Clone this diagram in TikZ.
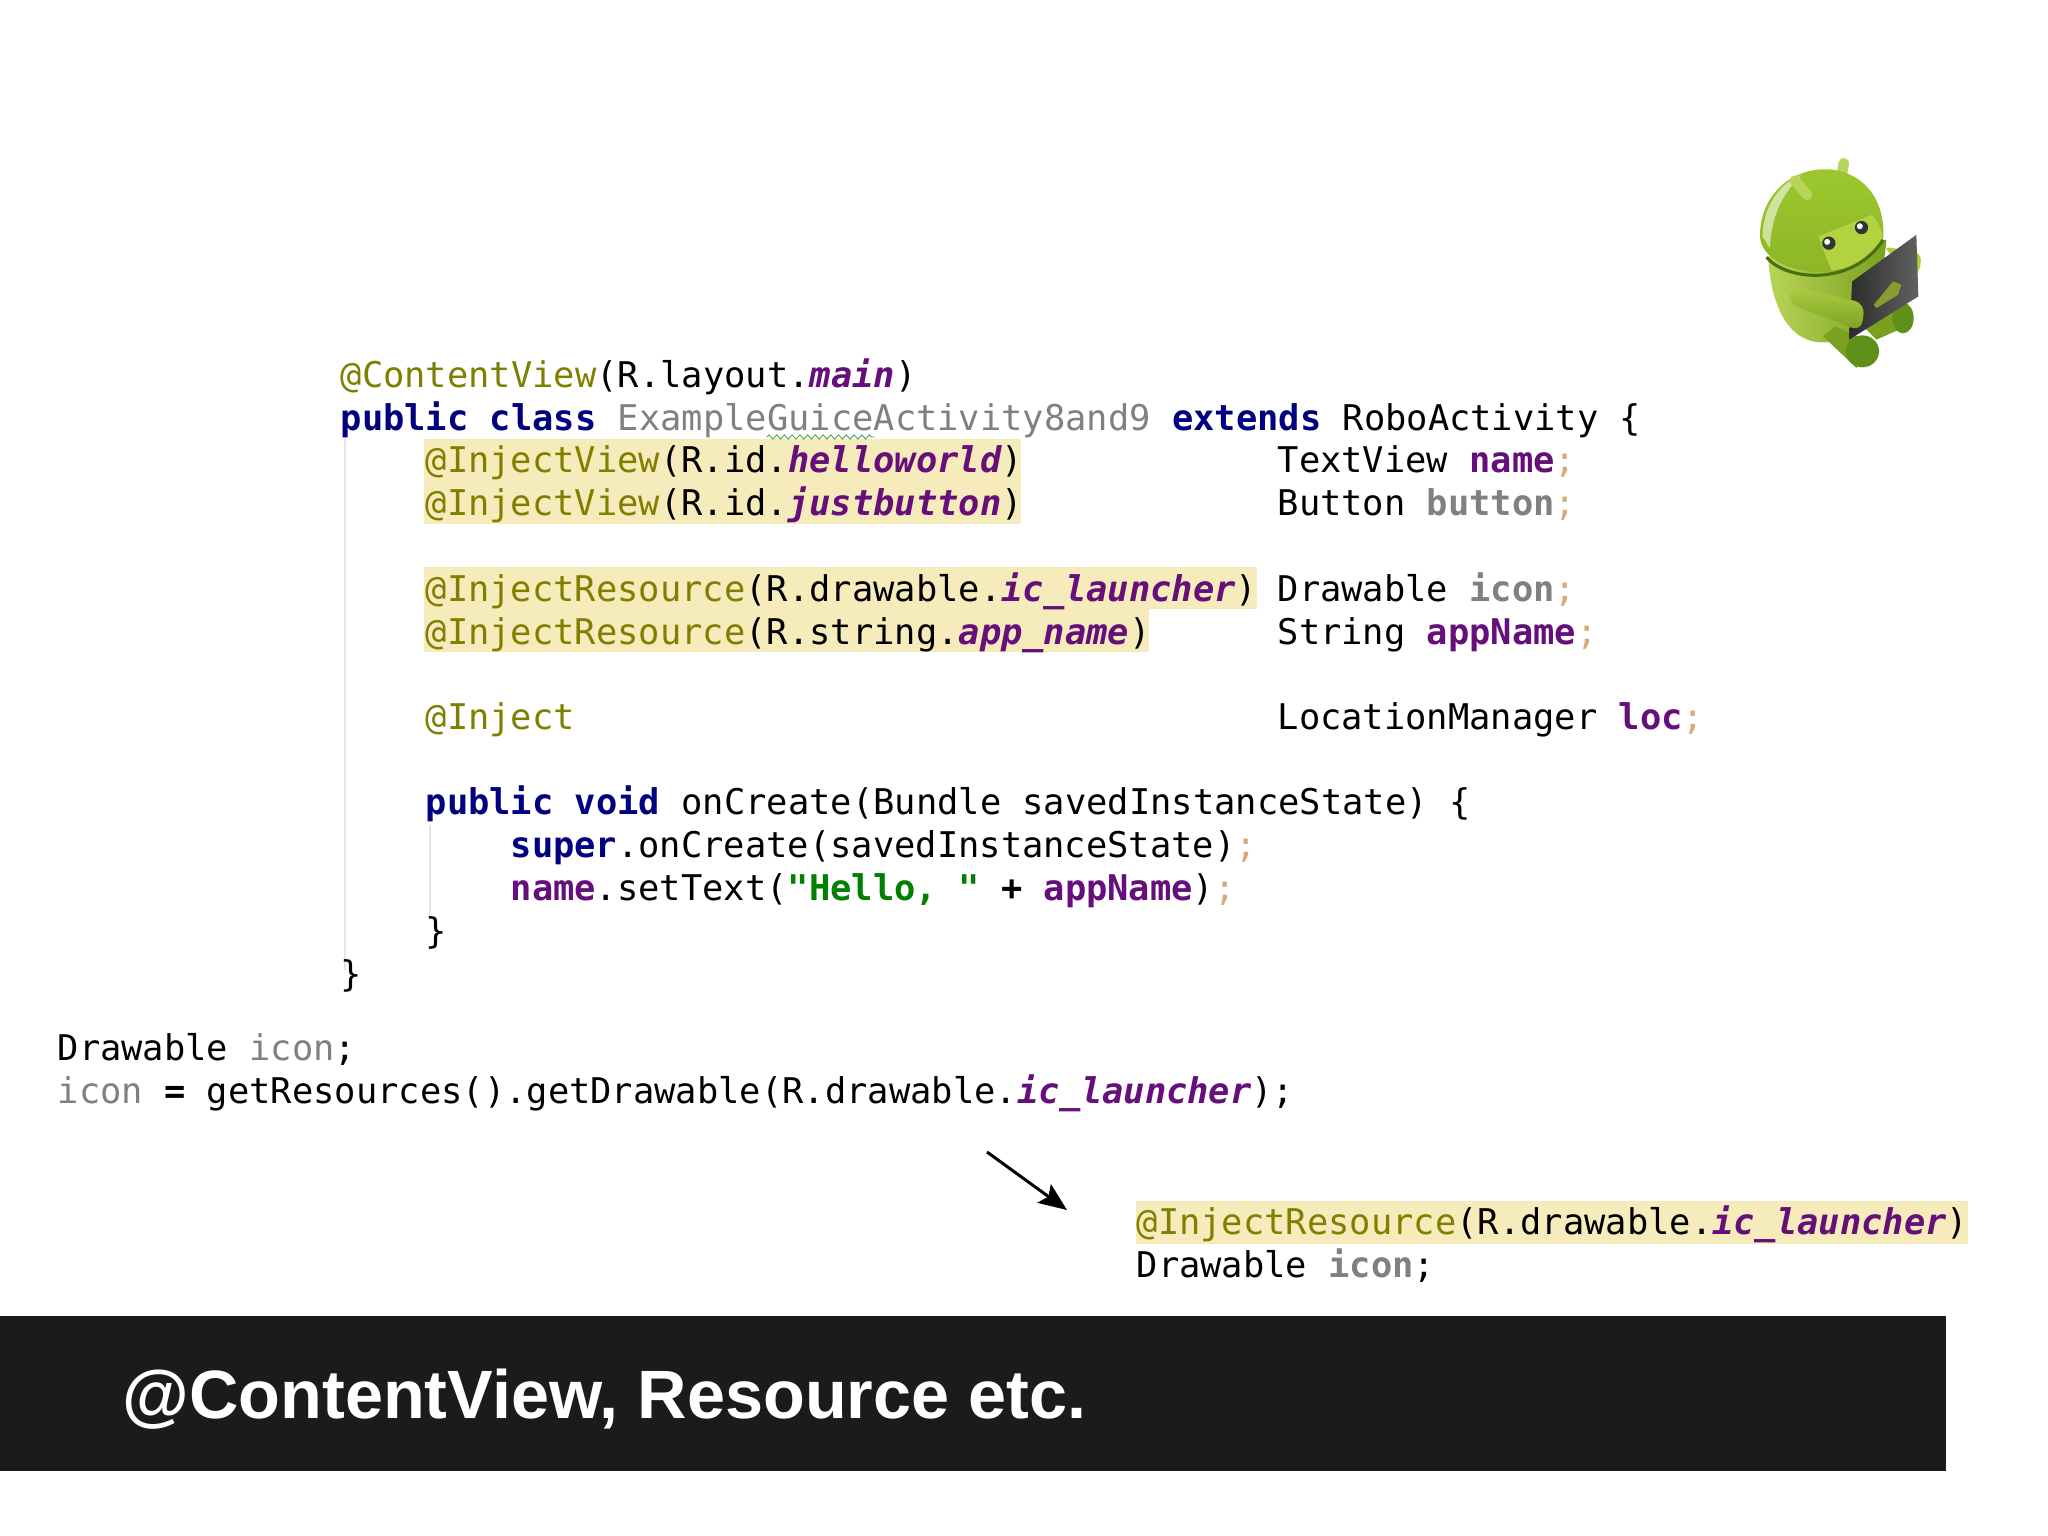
\documentclass[tikz,border=0pt]{standalone}
\usepackage{fontspec}
\setmainfont{Liberation Sans}
\setmonofont{DejaVu Sans Mono}
\usetikzlibrary{arrows.meta}
\usetikzlibrary{decorations.pathmorphing}
\definecolor{annot}{RGB}{128,128,0}
\definecolor{keyw}{RGB}{0,0,128}
\definecolor{field}{RGB}{102,14,122}
\definecolor{strg}{RGB}{0,128,0}
\definecolor{unused}{RGB}{128,128,128}
\definecolor{semi}{RGB}{214,170,120}
\definecolor{hilite}{RGB}{245,235,187}
\definecolor{barblack}{RGB}{27,26,29}
\definecolor{headtop}{RGB}{156,200,46}
\definecolor{headlow}{RGB}{140,182,38}
\definecolor{facelite}{RGB}{178,211,63}
\definecolor{bodylite}{RGB}{184,212,88}
\definecolor{bodydark}{RGB}{122,160,32}
\definecolor{footgreen}{RGB}{95,145,25}
\definecolor{collar}{RGB}{72,112,16}
\definecolor{armlite}{RGB}{172,206,66}
\definecolor{tabdark}{RGB}{42,45,44}
\definecolor{tabgrey}{RGB}{96,98,96}
\definecolor{tablogo}{RGB}{143,154,46}
\newcommand{\ann}[1]{\textcolor{annot}{#1}}
\newcommand{\kw}[1]{\textcolor{keyw}{\bfseries #1}}
\newcommand{\fld}[1]{\textcolor{field}{\bfseries #1}}
\newcommand{\res}[1]{\textcolor{field}{\bfseries\itshape #1}}
\newcommand{\grey}[1]{\textcolor{unused}{#1}}
\newcommand{\greyb}[1]{\textcolor{unused}{\bfseries #1}}
\newcommand{\semic}{\textcolor{semi}{;}}
\tikzset{
  codeline/.style = {anchor=base west, inner sep=0pt, font=\ttfamily\fontsize{10.07}{12}\selectfont},
  hibox/.style = {fill=hilite, draw=none},
  guide/.style = {draw=black!10, line width=0.4pt},
  squiggle/.style = {draw=strg!70!white, line width=0.25pt, decorate, decoration={zigzag, segment length=2.2pt, amplitude=.6pt}},
  titletext/.style = {anchor=base west, inner sep=0pt, text=white, font=\fontsize{19.45}{23}\selectfont\bfseries},
}

\begin{document}
\begin{tikzpicture}[x=0.01cm,y=-0.01cm]
  \useasboundingbox (0,0) rectangle (2048,1536);
  \fill[white] (0,0) rectangle (2048,1536);

  % highlights
  \fill[hibox] (424,439) rectangle (1021,524);
  \fill[hibox] (424,567) rectangle (1257,609);
  \fill[hibox] (424,609) rectangle (1149,652);
  \fill[hibox] (1136,1201) rectangle (1968,1244);
  % indent guides
  \draw[guide] (345,439) -- (345,970);
  \draw[guide] (430,825) -- (430,915);

  % class
  \node[codeline] (l1) at (340,387) {\ann{@ContentView}(R.layout.\res{main})};
  \node[codeline] (l2) at (340,430) {\kw{public class} \grey{ExampleGuiceActivity8and9} \kw{extends} RoboActivity \{};
  \coordinate (sq1) at (767,437);
  \coordinate (sq2) at (875,437);
  \path[squiggle] (sq1) -- (sq2);

  % fields
  \node[codeline] (v1) at (425,472) {\ann{@InjectView}(R.id.\res{helloworld})};
  \node[codeline] (v2) at (425,515) {\ann{@InjectView}(R.id.\res{justbutton})};
  \node[codeline] (r1) at (425,601) {\ann{@InjectResource}(R.drawable.\res{ic\_launcher})};
  \node[codeline] (r2) at (425,644) {\ann{@InjectResource}(R.string.\res{app\_name})};
  \node[codeline] (i1) at (425,729) {\ann{@Inject}};
  \node[codeline] (f1) at (1277,472) {TextView \fld{name}\semic};
  \node[codeline] (f2) at (1277,515) {Button \greyb{button}\semic};
  \node[codeline] (f3) at (1277,601) {Drawable \greyb{icon}\semic};
  \node[codeline] (f4) at (1277,644) {String \fld{appName}\semic};
  \node[codeline] (f5) at (1277,729) {LocationManager \fld{loc}\semic};

  % method
  \node[codeline] (m1) at (425,814) {\kw{public void} onCreate(Bundle savedInstanceState) \{};
  \node[codeline] (m2) at (510,857) {\kw{super}.onCreate(savedInstanceState)\semic};
  \node[codeline] (m3) at (510,900) {\fld{name}.setText(\textcolor{strg}{\bfseries "Hello, "} {\bfseries +} \fld{appName})\semic};
  \node[codeline] (m4) at (425,943) {\}};
  \node[codeline] (l3) at (340,986) {\}};

  % plain version
  \node[codeline] (p1) at (57,1060) {Drawable \grey{icon};};
  \node[codeline] (p2) at (57,1103) {\grey{icon} {\bfseries =} getResources().getDrawable(R.drawable.\res{ic\_launcher});};

  \coordinate (from) at (987,1152);
  \coordinate (to) at (1067,1210);
  \path[-{Stealth[length=8pt,width=6.5pt,inset=1.5pt]},line width=0.85pt,black] (from) edge (to);

  \node[codeline] (q1) at (1136,1234) {\ann{@InjectResource}(R.drawable.\res{ic\_launcher})};
  \node[codeline] (q2) at (1136,1277) {Drawable \greyb{icon};};

  % title bar
  \fill[barblack] (0,1316) rectangle (1946,1471);
  \node[titletext] (title) at (122,1418) {@ContentView, Resource etc.};

  % android
  \begin{scope}[shift={(1720,140)},x=0.00333cm,y=-0.00333cm]
    % rear leg and foot
    \fill[bodydark] (430,560) -- (520,500) -- (560,560) -- (470,600) -- cycle;
    \fill[footgreen] (550,535) ellipse (32 and 46);
    % hand behind tablet
    \fill[armlite,rounded corners=2pt] (490,320) -- (605,340) -- (600,400) -- (570,400) -- cycle;
    % body
    \shade[left color=bodylite,right color=bodydark]
      (145,350) .. controls (150,470) and (190,600) .. (300,608) .. controls (400,612) and (480,540) .. (500,300) -- cycle;
    % front leg and foot
    \fill[bodydark] (310,590) -- (345,560) -- (450,605) -- (410,685) -- cycle;
    \fill[footgreen] (428,635) ellipse (50 and 48);
    % back antenna
    \draw[line width=3pt,line cap=round,bodylite] (372,70) -- (362,125);
    % head
    \shade[top color=headtop,bottom color=headlow]
      (120,290) .. controls (120,160) and (220,85) .. (320,88) .. controls (420,90) and (500,170) .. (490,300)
      .. controls (470,370) and (350,405) .. (270,395) .. controls (190,385) and (125,350) .. (120,290) -- cycle;
    \fill[white,opacity=.55] (128,290) .. controls (128,200) and (180,130) .. (245,105) .. controls (190,160) and (155,220) .. (150,325) -- cycle;
    \fill[facelite] (295,290) -- (455,225) .. controls (485,255) and (490,285) .. (488,305) .. controls (460,355) and (400,385) .. (335,392) -- cycle;
    % front antenna
    \draw[line width=3pt,line cap=round,bodylite] (225,122) -- (262,165);
    % collar
    \draw[line width=0.9pt,collar] (140,352) .. controls (200,425) and (400,440) .. (490,300);
    % eyes
    \fill[black!80] (327,310) circle (20);
    \fill[white] (322,306) circle (9);
    \fill[black!80] (425,263) circle (20);
    \fill[white] (420,259) circle (9);
    % tablet
    \shade[left color=tabdark,right color=tabgrey] (397,425) -- (590,285) -- (596,470) -- (388,600) -- cycle;
    \fill[tablogo] (462,495) -- (520,425) -- (545,435) -- (535,465) -- (470,505) -- cycle;
    % arm
    \shade[top color=armlite,bottom color=bodydark,rounded corners=3pt]
      (215,440) -- (435,490) -- (425,575) -- (205,490) -- cycle;
  \end{scope}
\end{tikzpicture}
\end{document}
